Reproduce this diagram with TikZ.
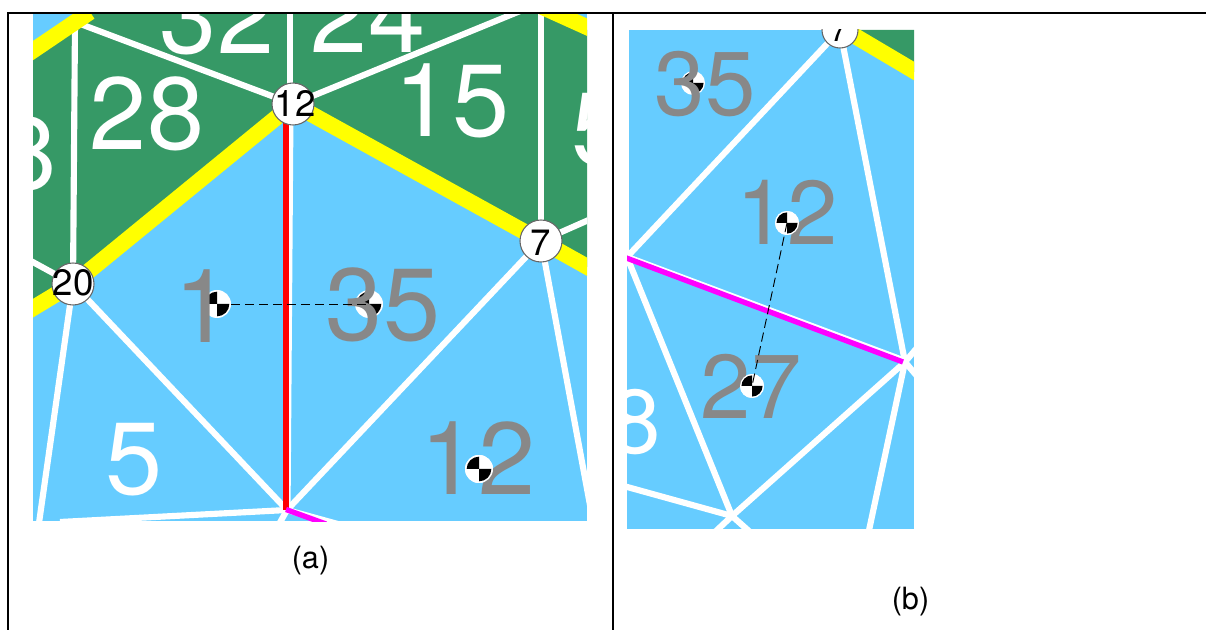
\documentclass[tikz,border=0pt]{standalone}
\usepackage{fontspec}
\setmainfont{TeX Gyre Heros}
\definecolor{bluef}{HTML}{66CCFF}
\definecolor{greenf}{HTML}{369966}
\definecolor{greyt}{HTML}{888888}
\definecolor{yelf}{RGB}{255,255,0}
\definecolor{magf}{RGB}{255,0,255}
\definecolor{redf}{RGB}{255,0,0}
\tikzset{
  x=0.75pt,y=-0.75pt,
  rule/.style={line width=1.7pt,black},
  edge/.style={white,line width=4.6pt},
  yel/.style={yelf,line width=12pt},
  redl/.style={redf,line width=4pt},
  magl/.style={magf,line width=4pt},
  link/.style={black,line width=0.7pt,dash pattern=on 7pt off 3.5pt},
  bigA/.style={inner sep=0pt,anchor=base,font=\fontsize{77}{77}\selectfont},
  bigB/.style={inner sep=0pt,anchor=base,font=\fontsize{68}{68}\selectfont},
  wht/.style={text=white},
  gry/.style={text=greyt},
  vcirc/.style={circle,draw=black!60,line width=0.8pt,fill=white,inner sep=0pt,minimum size=#1},
  vtxtA/.style={inner sep=0pt,anchor=base,font=\fontsize{27.5}{27.5}\selectfont},
  vtxtB/.style={inner sep=0pt,anchor=base,font=\fontsize{24}{24}\selectfont},
  capt/.style={inner sep=0pt,anchor=base,font=\fontsize{23}{23}\selectfont},
  mdisc/.style={circle,fill=white,draw=none,inner sep=0pt,minimum size=#1},
}
\newcommand{\centroid}[4]{%
  \node[mdisc=#4*1.5pt] (#1) at (#2,#3) {};
  \fill[black] (#2,#3) -- ++(180:#4*0.88) arc (180:270:#4*0.88) -- cycle;
  \fill[black] (#2,#3) -- ++(0:#4*0.88) arc (0:90:#4*0.88) -- cycle;
}
\begin{document}
\begin{tikzpicture}
\useasboundingbox (0,0) rectangle (1206,630);
\fill[white] (0,0) rectangle (1206,630);

% ---------- panel (a)
\begin{scope}
\clip (33,14) rectangle (587,521);
\fill[bluef] (33,14) rectangle (587,521);
\fill[greenf] (33,50) -- (85,14) -- (550,14) -- (587,30) -- (587,267) -- (541,241) -- (293,104) -- (73,284) -- (33,310) -- cycle;
\coordinate (aTL) at (75,22);
\coordinate (aL) at (73,284);
\coordinate (aT) at (293,104);
\coordinate (aR) at (541,241);
\coordinate (aB) at (287,510);
\coordinate (aW) at (20,255);
\coordinate (aTop) at (290,0);
\coordinate (aTopb) at (290,104);
\coordinate (aUR) at (541,0);
\coordinate (aURx) at (530,7);
\coordinate (aRx) at (600,215);
\coordinate (aLR) at (590,505);
\coordinate (aLb) at (38,530);
\coordinate (aBl) at (60,522);
\coordinate (aBd) at (278,526);
\coordinate (aBm) at (345,526);
\node[bigA,wht] (t28) at (147,150) {28};
\node[bigA,wht] (t8) at (28,190) {8};
\node[bigA,wht] (t32) at (217,54) {32};
\node[bigA,wht] (t24) at (368,53) {24};
\node[bigA,wht] (t15) at (452,137) {15};
\node[bigA,wht] (t5r) at (600,165) {5};
\node[bigA,wht] (t5) at (134,494) {5};
\draw[edge] (aTL) -- (aL);
\draw[edge] (aTL) -- (aT);
\draw[edge] (aTop) -- (aTopb);
\draw[edge] (aT) -- (aURx);
\draw[edge] (aUR) -- (aR);
\draw[edge] (aR) -- (aRx);
\draw[edge] (aL) -- (aW);
\draw[edge] (aL) -- (aLb);
\draw[edge] (aL) -- (aB);
\draw[edge] (aR) -- (aB);
\draw[edge] (aR) -- (aLR);
\draw[edge] (aB) -- (aBl);
\draw[edge] (aB) -- (aBd);
\draw[edge] (aB) -- (aBm);
\draw[edge] (290.5,104) -- (287.5,510);
\draw[yel] (25,56) -- (90,12);
\draw[yel] (aL) -- (aT);
\draw[yel] (aL) -- (25,313);
\draw[yel] (aT) -- (aR);
\draw[yel] (aR) -- (600,274);
\draw[yel] (538,5) -- (600,33);
\draw[redl] (286,118) -- (286,510);
\draw[magl] (286,509.5) -- (326,524);
\centroid{mA}{217}{304}{14}
\centroid{mB}{369}{304}{14}
\centroid{mC}{479}{469}{14}
\node[bigA,gry] (t1) at (203,343) {1};
\node[bigA,gry] (t35) at (383,341) {35};
\draw[link] (mA.center) -- (mB.center);
\node[vcirc=31.5pt] (c12) at (aT) {};
\node[vcirc=31.5pt] (c20) at (aL) {};
\node[vcirc=31.5pt] (c7) at (aR) {};
\node[vtxtA] (n12) at (295,117) {12};
\node[vtxtA] (n20) at (73,296) {20};
\node[vtxtA] (n7) at (541,255.5) {7};
\end{scope}
\begin{scope}
\clip (33,14) rectangle (587,521);
\node[bigA,gry] (t12) at (478,494) {12};
\centroid{mCb}{479}{469}{14}
\end{scope}

% ---------- panel (b)
\begin{scope}
\clip (627,30) rectangle (914,529);
\fill[bluef] (627,30) rectangle (914,529);
\fill[greenf] (850,30) -- (914,30) -- (914,72) -- cycle;
\coordinate (bT) at (840,30);
\coordinate (bL) at (627,257);
\coordinate (bV) at (905,362);
\coordinate (bB) at (732,516);
\coordinate (bBl) at (620,485);
\coordinate (bBa) at (715,532);
\coordinate (bBc) at (750,532);
\coordinate (bVd) at (868,535);
\coordinate (bVa) at (922,342);
\coordinate (bVb) at (922,382);
\node[bigB,wht] (u8) at (636,454) {8};
\draw[edge] (bT) -- (bL);
\draw[edge] (bT) -- (bV);
\draw[edge] (bL) -- (bB);
\draw[edge] (bB) -- (bBl);
\draw[edge] (bB) -- (bBa);
\draw[edge] (bB) -- (bBc);
\draw[edge] (bB) -- (bV);
\draw[edge] (bV) -- (bVd);
\draw[edge] (bV) -- (bVa);
\draw[edge] (bV) -- (bVb);
\draw[white,line width=1.6pt] (628,30) -- (628,255);
\draw[white,line width=3.4pt] (627,256) -- (905,360);
\draw[magl] (620,255.6) -- (903,362);
\draw[yel] (838,26) -- (925,77.5);
\centroid{mD}{693}{83}{12}
\centroid{mE}{787}{223}{12}
\centroid{mF}{752}{386}{12}
\node[bigB,gry] (u35) at (705,116) {35};
\end{scope}
\begin{scope}
\clip (627,30) rectangle (914,529);
\node[bigB,gry] (u12) at (787,245) {12};
\node[bigB,gry] (u27) at (751,419) {27};
\centroid{mEb}{787}{223}{12}
\centroid{mFb}{752}{386}{12}
\draw[link] (mEb.center) -- (mFb.center);
\node[vcirc=27pt] (c7b) at (bT) {};
\node[vtxtB] (n7b) at (839,42) {7};
\end{scope}

% ---------- captions and table rules
\node[capt] (capA) at (310.5,568) {(a)};
\node[capt] (capB) at (910.5,609) {(b)};
\draw[rule] (7,13) -- (1206,13);
\draw[rule] (8,13) -- (8,630);
\draw[rule] (613,13) -- (613,630);
\end{tikzpicture}
\end{document}
